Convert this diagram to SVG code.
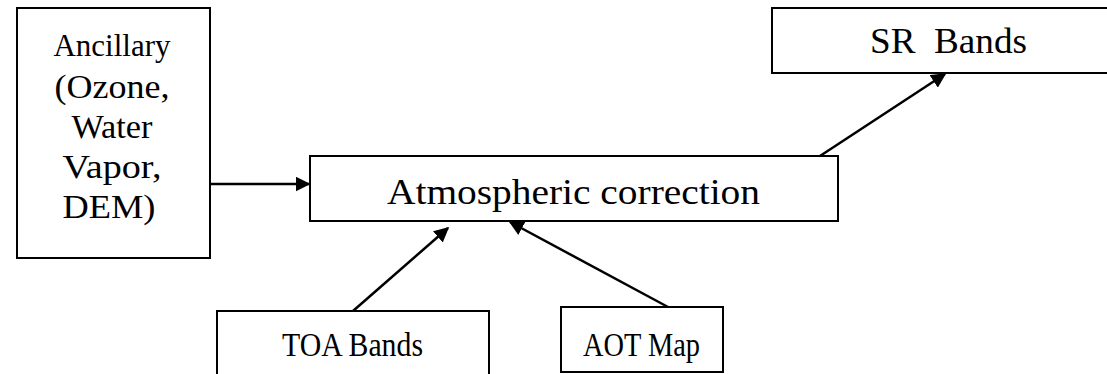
<svg xmlns="http://www.w3.org/2000/svg" width="1107" height="374" viewBox="0 0 1107 374">
<style>
.box{fill:#fff;stroke:#000;stroke-width:2}
.t{font-family:"Liberation Serif","Times New Roman",serif;fill:#000;text-anchor:middle}
.c{stroke:#000;stroke-width:2.5;fill:none;marker-end:url(#ah)}
</style>
<defs>
<marker id="ah" viewBox="0 0 10 10" refX="9" refY="5" markerWidth="6" markerHeight="6" markerUnits="strokeWidth" orient="auto">
<path d="M0,0 L10,5 L0,10 z" fill="#000"/>
</marker>
</defs>
<rect width="1107" height="374" fill="#fff"/>
<g id="ancillary">
<rect class="box" x="17" y="8" width="193" height="250"/>
<text class="t" x="112" y="56" font-size="31" textLength="117" lengthAdjust="spacingAndGlyphs">Ancillary</text>
<text class="t" x="112" y="98" font-size="34" textLength="115" lengthAdjust="spacingAndGlyphs">(Ozone,</text>
<text class="t" x="112" y="138" font-size="34" textLength="81" lengthAdjust="spacingAndGlyphs">Water</text>
<text class="t" x="112" y="178" font-size="34" textLength="99" lengthAdjust="spacingAndGlyphs">Vapor,</text>
<text class="t" x="109" y="218" font-size="34" textLength="93" lengthAdjust="spacingAndGlyphs">DEM)</text>
</g>
<g id="atmospheric">
<rect class="box" x="310" y="156" width="528" height="65"/>
<text class="t" x="573.5" y="204" font-size="36" textLength="373" lengthAdjust="spacingAndGlyphs">Atmospheric correction</text>
</g>
<g id="sr">
<rect class="box" x="772" y="8" width="345" height="65"/>
<text class="t" x="948.5" y="53" font-size="35" textLength="157" lengthAdjust="spacingAndGlyphs" xml:space="preserve">SR  Bands</text>
</g>
<g id="toa">
<rect class="box" x="217" y="311" width="272" height="80"/>
<text class="t" x="352.5" y="356" font-size="34" textLength="141" lengthAdjust="spacingAndGlyphs">TOA Bands</text>
</g>
<g id="aot">
<rect class="box" x="561" y="307" width="162" height="65"/>
<text class="t" x="641.5" y="356" font-size="34" textLength="117" lengthAdjust="spacingAndGlyphs">AOT Map</text>
</g>
<g id="connectors">
<line class="c" x1="210" y1="184" x2="309" y2="184"/>
<line class="c" x1="820" y1="156" x2="945" y2="74"/>
<line class="c" x1="353" y1="311" x2="448" y2="228"/>
<line class="c" x1="668" y1="307" x2="510" y2="222"/>
</g>
</svg>
